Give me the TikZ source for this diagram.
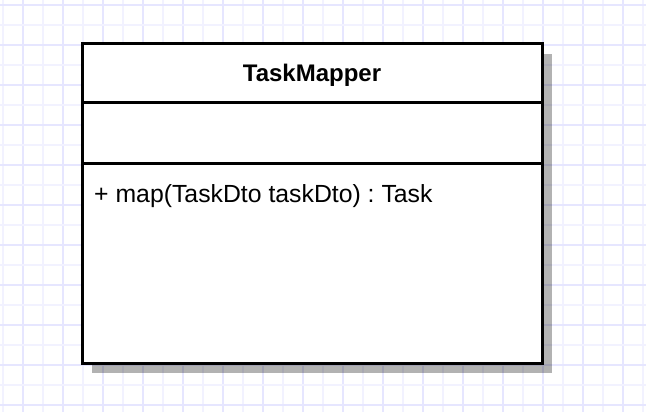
\documentclass[tikz,border=0pt]{standalone}
\usepackage{fontspec}
\setmainfont{Liberation Sans}
\usetikzlibrary{positioning,shadows}

\definecolor{gridfaint}{RGB}{242,242,255}
\definecolor{gridmajor}{RGB}{230,230,255}

\tikzset{
    compart/.style={rectangle, draw, line width=3pt, fill=white, minimum width=460pt, inner sep=0pt, outer sep=0pt, anchor=north west,
        drop shadow={shadow xshift=10pt, shadow yshift=-10pt, opacity=.3, fill=black}},
    umltext/.style={font=\fontsize{24.8}{28}\selectfont}
}

\begin{document}
\frenchspacing
\begin{tikzpicture}[x=1pt, y=-1pt]
    \useasboundingbox (0,0) rectangle (646,412);
    % grid
    \foreach \k in {0,...,32} {
        \pgfmathsetmacro{\gx}{3+20*\k}
        \ifodd\k \def\gc{gridmajor}\else \def\gc{gridfaint}\fi
        \draw[\gc, line width=1.6pt] (\gx,0) -- (\gx,412);
    }
    \foreach \k in {0,...,20} {
        \pgfmathsetmacro{\gy}{5+20*\k}
        \ifodd\k \def\gc{gridfaint}\else \def\gc{gridmajor}\fi
        \draw[\gc, line width=1.6pt] (0,\gy) -- (646,\gy);
    }

    % class TaskMapper
    \node[compart, minimum height=59pt, font=\fontsize{24}{28}\selectfont, text height=17pt, text depth=1pt] (title) at (82,44) {\textbf{TaskMapper}};
    \node[compart, minimum height=60pt] (attrs) at (82,103) {};
    \node[compart, minimum height=200pt] (ops) at (82,163) {};
    \node[umltext, anchor=base west, inner sep=0pt] (mapop) at (94,202) {+ map(TaskDto taskDto) : Task};
\end{tikzpicture}
\end{document}
